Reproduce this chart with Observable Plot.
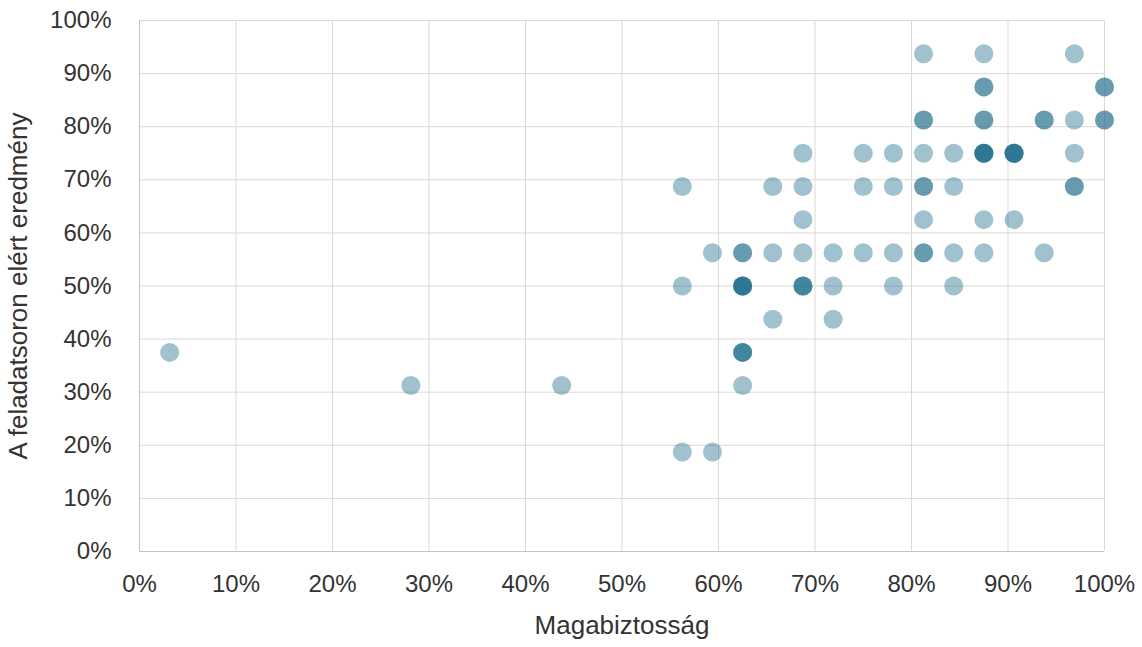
<!DOCTYPE html>
<html>
<head>
<meta charset="utf-8">
<script src="https://cdn.jsdelivr.net/npm/d3@7"></script>
<script src="https://cdn.jsdelivr.net/npm/@observablehq/plot@0.6"></script>
<style>
  html, body { margin: 0; padding: 0; background: #ffffff; }
  #chart { width: 1142px; height: 647px; }
</style>
</head>
<body>
<div id="chart"></div>
<script>
// Magabiztosság (confidence, %) — repeated entries are overlapping students
const confidence = [
  3.125,
  28.125,
  43.75,
  56.25, 56.25, 56.25,
  59.375, 59.375,
  62.5, 62.5, 62.5, 62.5, 62.5, 62.5, 62.5, 62.5, 62.5, 62.5,
  65.625, 65.625, 65.625,
  68.75, 68.75, 68.75, 68.75, 68.75, 68.75, 68.75,
  71.875, 71.875, 71.875,
  75, 75, 75,
  78.125, 78.125, 78.125, 78.125,
  81.25, 81.25, 81.25, 81.25, 81.25, 81.25, 81.25, 81.25, 81.25,
  84.375, 84.375, 84.375, 84.375,
  87.5, 87.5, 87.5, 87.5, 87.5, 87.5, 87.5, 87.5, 87.5, 87.5, 87.5,
  90.625, 90.625, 90.625, 90.625, 90.625,
  93.75, 93.75, 93.75,
  96.875, 96.875, 96.875, 96.875, 96.875,
  100, 100, 100, 100
];
// A feladatsoron elért eredmény (score, %)
const score = [
  37.5,
  31.25,
  31.25,
  68.75, 50, 18.75,
  56.25, 18.75,
  56.25, 56.25, 50, 50, 50, 50, 37.5, 37.5, 37.5, 31.25,
  68.75, 56.25, 43.75,
  75, 68.75, 62.5, 56.25, 50, 50, 50,
  56.25, 50, 43.75,
  75, 68.75, 56.25,
  75, 68.75, 56.25, 50,
  93.75, 81.25, 81.25, 75, 68.75, 68.75, 62.5, 56.25, 56.25,
  75, 68.75, 56.25, 50,
  93.75, 87.5, 87.5, 81.25, 81.25, 75, 75, 75, 75, 62.5, 56.25,
  75, 75, 75, 75, 62.5,
  81.25, 81.25, 56.25,
  93.75, 81.25, 75, 68.75, 68.75,
  87.5, 87.5, 81.25, 81.25
];
const ticks = [0, 10, 20, 30, 40, 50, 60, 70, 80, 90, 100];
const xTitle = "Magabiztosság";
const yTitle = "A feladatsoron elért eredmény";

const points = confidence.map((c, i) => ({x: c, y: score[i]}));

const font = "'Liberation Sans', Arial, sans-serif";
const textColor = "#333333";
const pct = d => d + "%";

const chart = Plot.plot({
  width: 1142,
  height: 647,
  marginLeft: 139,
  marginRight: 38,
  marginTop: 20,
  marginBottom: 96,
  style: {fontFamily: font, fontSize: "24px", color: textColor, background: "#ffffff"},
  x: {domain: [0, 100]},
  y: {domain: [0, 100]},
  marks: [
    Plot.gridX(ticks, {stroke: "#d9d9d9", strokeOpacity: 1}),
    Plot.gridY(ticks, {stroke: "#d9d9d9", strokeOpacity: 1}),
    Plot.ruleX([0], {stroke: "#c4c4c4"}),
    Plot.ruleY([0], {stroke: "#c4c4c4"}),
    Plot.axisX(ticks, {tickSize: 0, tickPadding: 23, tickFormat: pct, label: null, fill: textColor, fontSize: 24}),
    Plot.axisY(ticks, {tickSize: 0, tickPadding: 28, tickFormat: pct, label: null, fill: textColor, fontSize: 24}),
    Plot.dot(points, {x: "x", y: "y", r: 9.5, fill: "#126484", fillOpacity: 0.4, stroke: "none"}),
    Plot.text([xTitle], {frameAnchor: "bottom", dy: 82, fill: textColor, fontSize: 26}),
    Plot.text([yTitle], {frameAnchor: "left", dx: -121, rotate: -90, textAnchor: "middle", fill: textColor, fontSize: 26})
  ]
});
document.getElementById("chart").appendChild(chart);
</script>
</body>
</html>
